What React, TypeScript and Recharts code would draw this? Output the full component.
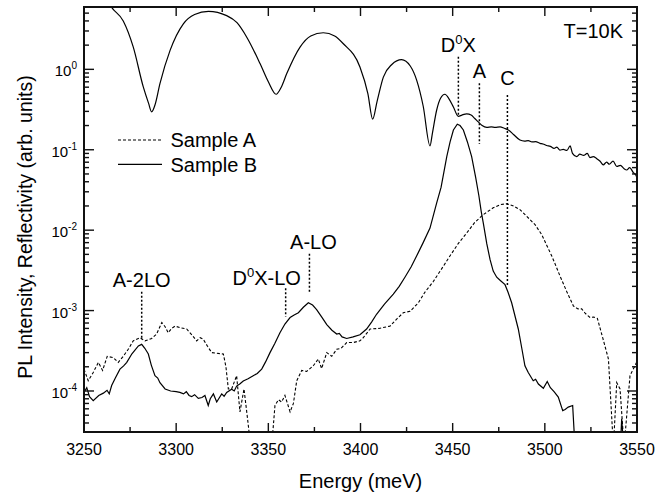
import React from "react";
import { LineChart, Line, XAxis, YAxis, ReferenceLine, Label } from "recharts";

// energy (meV), value (arb. units)
const REFLECTIVITY: [number, number][] = [
  [3250, 30], [3260, 9.5], [3265, 5.9], [3271.3, 4.0], [3276.7, 1.9], [3282.2, 0.6],
  [3285, 0.38], [3286.7, 0.296], [3288.5, 0.36], [3291.2, 0.665], [3296.7, 1.72],
  [3303.9, 3.68], [3310, 4.8], [3317.5, 5.27], [3327.4, 4.66], [3333, 3.8], [3338.3, 2.51],
  [3345.5, 1.18], [3350, 0.7], [3354.2, 0.49], [3357, 0.6], [3360, 0.885], [3367.2, 1.89],
  [3373, 2.6], [3379.8, 2.85], [3386, 2.6], [3390.7, 2.08], [3399.7, 1.07], [3404, 0.5],
  [3406.6, 0.24], [3409, 0.4], [3412.4, 0.8], [3417, 1.15], [3422.3, 1.32], [3427, 1.1],
  [3430.5, 0.73], [3434, 0.35], [3437.7, 0.112], [3439, 0.16], [3441.3, 0.31], [3443.5, 0.44],
  [3445.8, 0.49], [3448, 0.43], [3450.4, 0.34], [3453.1, 0.26], [3455, 0.27], [3457.6, 0.28],
  [3460, 0.27], [3462, 0.245], [3463.9, 0.222], [3466, 0.2], [3468.5, 0.19], [3471, 0.192],
  [3473, 0.19], [3475.7, 0.193], [3478, 0.185], [3480.2, 0.176], [3483, 0.155], [3486.5, 0.132],
  [3489, 0.128], [3491, 0.13], [3493, 0.125], [3495, 0.126], [3497.4, 0.12], [3499, 0.118],
  [3501, 0.113], [3503, 0.11], [3505, 0.104], [3506.5, 0.108], [3508.2, 0.099], [3510, 0.101],
  [3512, 0.098], [3513.7, 0.112], [3515, 0.09], [3517.3, 0.082], [3519, 0.088], [3521, 0.085],
  [3523, 0.09], [3524.5, 0.08], [3526.3, 0.082], [3528, 0.078], [3530, 0.072], [3531.7, 0.065],
  [3533.5, 0.07], [3535, 0.066], [3537, 0.072], [3539, 0.062], [3541, 0.064], [3543, 0.058],
  [3544.4, 0.056], [3546, 0.06], [3548, 0.052], [3549.5, 0.048], [3550, 0.044],
];

const SAMPLE_B: [number, number][] = [
  [3250, 9.6e-5], [3251.5, 1.1e-4], [3253, 8.5e-5], [3255, 7.6e-5], [3258, 8.8e-5],
  [3260.5, 9.4e-5], [3262.5, 1.02e-4], [3263.7, 9.2e-5], [3265, 1.17e-4], [3267, 1.45e-4],
  [3269.5, 1.87e-4], [3271.5, 2.05e-4], [3273.2, 2.27e-4], [3276, 2.9e-4], [3279.5, 3.63e-4],
  [3281.3, 3.8e-4], [3283, 3.4e-4], [3284.9, 2.88e-4], [3286.5, 2.1e-4], [3288.5, 1.55e-4],
  [3290, 1.45e-4], [3291.2, 1.27e-4], [3294, 1.06e-4], [3297, 1.0e-4], [3300, 9.8e-5],
  [3302, 9.6e-5], [3304, 9.2e-5], [3305.5, 9.8e-5], [3307, 8.8e-5], [3308.4, 8.5e-5],
  [3310, 9.0e-5], [3312, 8.1e-5], [3314, 8.3e-5], [3315.6, 8.8e-5], [3317.4, 6.6e-5],
  [3318.5, 8.0e-5], [3320.2, 9.2e-5], [3322, 7.3e-5], [3324.7, 9.2e-5], [3326, 8.6e-5],
  [3327.4, 9.6e-5], [3330.1, 1.05e-4], [3331.5, 1.0e-4], [3332.8, 1.15e-4], [3334.5, 1.22e-4],
  [3336.4, 1.33e-4], [3339, 1.42e-4], [3341.8, 1.55e-4], [3344, 1.65e-4], [3346.4, 1.87e-4],
  [3348.5, 2.3e-4], [3350.9, 3.0e-4], [3353.5, 3.9e-4], [3356.3, 5.3e-4], [3359, 6.8e-4],
  [3361.8, 8.2e-4], [3364, 8.8e-4], [3366.3, 9.4e-4], [3369, 1.1e-3], [3371.7, 1.25e-3],
  [3374, 1.17e-3], [3376.2, 1.03e-3], [3379, 8.3e-4], [3381.7, 6.7e-4], [3384.5, 5.7e-4],
  [3387.1, 5.1e-4], [3388.5, 5.2e-4], [3390, 4.7e-4], [3392.5, 4.5e-4], [3396, 4.7e-4],
  [3399.7, 5.0e-4], [3403.3, 5.9e-4], [3406, 7.2e-4], [3408.7, 9.0e-4], [3413, 1.2e-3],
  [3417.8, 1.6e-3], [3421, 2.0e-3], [3424.1, 2.6e-3], [3427.5, 3.5e-3], [3430.5, 4.8e-3],
  [3434, 7.0e-3], [3437.7, 1.06e-2], [3441.3, 2.17e-2], [3443.7, 3.4e-2], [3446.8, 8.2e-2],
  [3448.6, 0.125], [3450.4, 0.176], [3452.5, 0.208], [3454, 0.2], [3455.8, 0.176],
  [3458, 0.125], [3460.3, 0.082], [3462.5, 0.045], [3464.2, 0.027], [3465.5, 0.017],
  [3466.6, 0.0123], [3468.5, 6.8e-3], [3470.3, 4.3e-3], [3472, 3.1e-3], [3473.9, 2.6e-3],
  [3476, 2.35e-3], [3478.4, 2.1e-3], [3480, 1.7e-3], [3482, 1.25e-3], [3485.6, 5.9e-4],
  [3487.5, 3.4e-4], [3489.2, 2.06e-4], [3491, 1.7e-4], [3493.7, 1.34e-4], [3495, 1.4e-4],
  [3496.5, 1.22e-4], [3499.2, 1.08e-4], [3501.3, 1.31e-4], [3503, 1.1e-4], [3505, 9.8e-5],
  [3507.3, 8.4e-5], [3509.7, 5.7e-5], [3511, 5.9e-5], [3512.7, 6.3e-5], [3515.1, 6.6e-5],
  [3516.9, 1.2e-5], [3530, 1.2e-5], [3540.5, 1.2e-5], [3541.7, 4.5e-5], [3543.5, 1.2e-5],
  [3550, 1.2e-5],
];

const SAMPLE_A: [number, number][] = [
  [3250, 1.87e-4], [3252.3, 1.34e-4], [3255, 1.7e-4], [3257.8, 2.27e-4], [3260.1, 1.8e-4],
  [3262.6, 2.7e-4], [3265.9, 2.6e-4], [3268.6, 2.27e-4], [3271.3, 2.7e-4], [3274, 3.3e-4],
  [3276.7, 4.2e-4], [3280.4, 4.6e-4], [3283.1, 4.2e-4], [3286.7, 4.5e-4], [3289.4, 5.1e-4],
  [3292.2, 7.1e-4], [3294, 6.3e-4], [3295.7, 5.3e-4], [3297.5, 6.0e-4], [3299.4, 6.4e-4],
  [3302.5, 6.1e-4], [3305.7, 5.9e-4], [3308.5, 5.0e-4], [3311.1, 4.2e-4], [3313, 4.6e-4],
  [3314.7, 4.4e-4], [3317, 3.6e-4], [3319.3, 3.0e-4], [3322, 2.95e-4], [3325.6, 2.88e-4],
  [3327, 2.0e-4], [3328.3, 1.06e-4], [3330.1, 1.06e-4], [3332.8, 1.55e-4], [3334.6, 5.5e-5],
  [3336.8, 1.06e-4], [3338.5, 5e-5], [3340, 2.5e-5], [3345, 1.2e-5], [3351, 1.2e-5],
  [3352.4, 3.0e-5], [3353.6, 6.6e-5], [3355.5, 7.8e-5], [3357.2, 7.3e-5], [3359, 8.8e-5],
  [3361.8, 5.5e-5], [3363.6, 7.0e-5], [3365.4, 1.34e-4], [3368.1, 1.8e-4], [3370.8, 1.75e-4],
  [3374.4, 2.06e-4], [3377.1, 2.5e-4], [3378.9, 1.9e-4], [3381.7, 3.0e-4], [3384.4, 2.7e-4],
  [3387.1, 3.3e-4], [3389.5, 3.4e-4], [3392.5, 4.0e-4], [3396, 4.0e-4], [3399.7, 4.2e-4],
  [3401.5, 4.6e-4], [3405.2, 5.9e-4], [3410, 6.0e-4], [3416, 6.4e-4], [3420, 8.0e-4],
  [3423.2, 9.4e-4], [3426.9, 9.8e-4], [3431.4, 1.25e-3], [3435, 1.7e-3], [3439.5, 2.3e-3],
  [3444, 3.3e-3], [3448.6, 4.8e-3], [3453, 6.8e-3], [3457.6, 9.2e-3], [3462, 1.25e-2],
  [3466.6, 1.56e-2], [3472, 1.9e-2], [3476, 2.08e-2], [3479.3, 2.13e-2], [3483, 2.0e-2],
  [3486.5, 1.8e-2], [3490, 1.5e-2], [3494.7, 1.17e-2], [3498.3, 8.8e-3], [3501, 6.5e-3],
  [3503.7, 4.8e-3], [3506, 3.6e-3], [3508.2, 2.7e-3], [3512, 1.7e-3], [3515.5, 1.14e-3],
  [3518, 1.05e-3], [3520, 1.05e-3], [3522, 9.2e-4], [3524.5, 8.2e-4], [3526.5, 8.3e-4],
  [3528.5, 8.0e-4], [3531.5, 4.5e-4], [3534.5, 2.5e-4], [3537.2, 2.0e-5], [3539, 1.27e-4],
  [3540.8, 1.06e-4], [3543, 2.0e-5], [3546.2, 1.55e-4], [3549.8, 2.27e-4],
];

const ENERGY_TICKS = [
  3250, 3275, 3300, 3325, 3350, 3375, 3400, 3425, 3450, 3475, 3500, 3525, 3550,
];
const INTENSITY_TICKS = [
  4e-5, 5e-5, 6e-5, 7e-5, 8e-5, 9e-5,
  1e-4, 2e-4, 3e-4, 4e-4, 5e-4, 6e-4, 7e-4, 8e-4, 9e-4,
  1e-3, 2e-3, 3e-3, 4e-3, 5e-3, 6e-3, 7e-3, 8e-3, 9e-3,
  1e-2, 2e-2, 3e-2, 4e-2, 5e-2, 6e-2, 7e-2, 8e-2, 9e-2,
  0.1, 0.2, 0.3, 0.4, 0.5, 0.6, 0.7, 0.8, 0.9,
  1, 2, 3, 4, 5,
];
const ENERGY_RANGE = [3250, 3550];
const INTENSITY_RANGE = [3.09e-5, 5.96];

// peak markers: label, energy, top and bottom of dotted marker
const PEAK_LABELS = ["A-2LO", "D^0X-LO", "A-LO", "D^0X", "A", "C"];
const PEAK_ENERGY = [3281.3, 3359.4, 3372.3, 3453.1, 3464.5, 3479.7];
const PEAK_TOP = [1.71e-3, 1.89e-3, 5.1e-3, 1.43, 0.67, 0.479];
const PEAK_BOTTOM = [4.3e-4, 8.4e-4, 1.64e-3, 0.27, 0.118, 2.08e-3];

const PEAK_DX = [0, -19, 4, 0, 0, 0];
const PEAK_GAP = [5, 3, 5, 5, 5, 10];

const FONT = '"Liberation Sans", Arial, Helvetica, sans-serif';
const INK = "#000";
const FRAME_INK = "#111";

// chart box (matches the margins and axis sizes below)
const W = 667;
const H = 495;
const MARGIN = { top: 7, right: 30, bottom: 0, left: 8 };
const Y_AXIS_W = 76;
const X_AXIS_H = 63;
const PLOT = {
  left: MARGIN.left + Y_AXIS_W,
  right: W - MARGIN.right,
  top: MARGIN.top,
  bottom: H - MARGIN.bottom - X_AXIS_H,
};

const toPoints = (rows: [number, number][]) => rows.map(([e, v]) => ({ e, v }));

const isDecade = (v: number) => Math.abs(Math.log10(v) - Math.round(Math.log10(v))) < 1e-6;

// same linear / log mapping as the axes, used for the frame tick marks
const xPos = (e: number) =>
  PLOT.left + ((e - ENERGY_RANGE[0]) / (ENERGY_RANGE[1] - ENERGY_RANGE[0])) * (PLOT.right - PLOT.left);
const yPos = (v: number) => {
  const lo = Math.log10(INTENSITY_RANGE[0]);
  const hi = Math.log10(INTENSITY_RANGE[1]);
  return PLOT.top + ((hi - Math.log10(v)) / (hi - lo)) * (PLOT.bottom - PLOT.top);
};

function withSup(label: string, supSize: number) {
  const i = label.indexOf("^");
  if (i < 0) return label;
  return (
    <>
      <tspan>{label.slice(0, i)}</tspan>
      <tspan dy={-8} fontSize={supSize}>{label[i + 1]}</tspan>
      <tspan dy={8}>{label.slice(i + 2)}</tspan>
    </>
  );
}

function BottomTick({ x, y, payload }: any) {
  if (payload.value % 50 !== 0) return null;
  return (
    <text x={Number(x)} y={Number(y) + 23} textAnchor="middle" fontSize={16} fill={INK} fontFamily={FONT}>
      {payload.value}
    </text>
  );
}

function LeftTick({ x, y, payload }: any) {
  if (!isDecade(payload.value)) return null;
  const exp = Math.round(Math.log10(payload.value));
  return (
    <text x={Number(x) - 7} y={Number(y) + 7} textAnchor="end" fontSize={15} fill={INK} fontFamily={FONT}>
      <tspan>10</tspan>
      <tspan dy={-7} fontSize={10}>{exp}</tspan>
    </text>
  );
}

const peakLabel = (i: number) => (props: any) => {
  const vb = props.viewBox || {};
  const cx = vb.x + (vb.width || 0) / 2 + PEAK_DX[i];
  return (
    <text x={cx} y={vb.y - PEAK_GAP[i]} textAnchor="middle" fontSize={20} fill={INK} fontFamily={FONT}>
      {withSup(PEAK_LABELS[i], 13)}
    </text>
  );
};

const LEGEND = [
  { name: "Sample A", dash: "3 2" },
  { name: "Sample B", dash: undefined },
];

// frame and inward tick marks drawn as filled bars
function Frame() {
  const { left, right, top, bottom } = PLOT;
  const bars: { x: number; y: number; w: number; h: number }[] = [
    { x: left - 1, y: top - 1, w: right - left + 2, h: 2 },
    { x: left - 1, y: bottom - 1, w: right - left + 2, h: 2 },
    { x: left - 1, y: top - 1, w: 2, h: bottom - top + 2 },
    { x: right - 1, y: top - 1, w: 2, h: bottom - top + 2 },
  ];
  ENERGY_TICKS.forEach((e) => {
    const len = e % 50 === 0 ? 9 : 5;
    const x = xPos(e) - 0.7;
    bars.push({ x, y: bottom - len, w: 1.4, h: len }, { x, y: top, w: 1.4, h: len });
  });
  INTENSITY_TICKS.forEach((v) => {
    const len = isDecade(v) ? 10 : 5;
    const y = yPos(v) - 0.7;
    bars.push({ x: left, y, w: len, h: 1.4 }, { x: right - len, y, w: len, h: 1.4 });
  });
  return (
    <g>
      {bars.map((b, i) => (
        <rect key={i} x={b.x} y={b.y} width={b.w} height={b.h} fill={FRAME_INK} />
      ))}
    </g>
  );
}

export default function App() {
  return (
    <div style={{ position: "absolute", left: 0, top: 0, width: W, height: H }}>
      <LineChart width={W} height={H} margin={MARGIN}>
        <XAxis
          dataKey="e"
          type="number"
          domain={ENERGY_RANGE}
          allowDataOverflow
          ticks={ENERGY_TICKS}
          interval={0}
          height={X_AXIS_H}
          tickSize={0}
          tickMargin={0}
          tickLine={false}
          axisLine={false}
          tick={<BottomTick />}
        />
        <YAxis
          scale="log"
          type="number"
          domain={INTENSITY_RANGE}
          allowDataOverflow
          ticks={INTENSITY_TICKS}
          interval={0}
          width={Y_AXIS_W}
          tickSize={0}
          tickMargin={0}
          tickLine={false}
          axisLine={false}
          tick={<LeftTick />}
        />

        {PEAK_LABELS.map((name, i) => (
          <ReferenceLine
            key={name}
            segment={[
              { x: PEAK_ENERGY[i], y: PEAK_TOP[i] },
              { x: PEAK_ENERGY[i], y: PEAK_BOTTOM[i] },
            ]}
            stroke={INK}
            strokeWidth={1.5}
            strokeDasharray="2 2"
            label={<Label content={peakLabel(i)} />}
          />
        ))}

        <Line
          name="Reflectivity"
          type="monotone"
          data={toPoints(REFLECTIVITY)}
          dataKey="v"
          stroke={INK}
          strokeWidth={1.2}
          dot={false}
          activeDot={false}
          isAnimationActive={false}
        />
        <Line
          name="Sample A"
          data={toPoints(SAMPLE_A)}
          dataKey="v"
          stroke={INK}
          strokeWidth={1.1}
          strokeDasharray="3 2"
          dot={false}
          activeDot={false}
          isAnimationActive={false}
        />
        <Line
          name="Sample B"
          data={toPoints(SAMPLE_B)}
          dataKey="v"
          stroke={INK}
          strokeWidth={1.2}
          dot={false}
          activeDot={false}
          isAnimationActive={false}
        />
      </LineChart>

      {/* frame, titles, legend and temperature note */}
      <svg width={W} height={H} style={{ position: "absolute", left: 0, top: 0, pointerEvents: "none" }}
        fontFamily={FONT} fill={INK}>
        <Frame />
        <text x={(PLOT.left + PLOT.right) / 2} y={488} textAnchor="middle" fontSize={20}>Energy (meV)</text>
        <text x={25} y={227} transform="rotate(-90, 25, 227)" textAnchor="middle"
          dominantBaseline="central" fontSize={19.5}>
          PL Intensity, Reflectivity (arb. units)
        </text>
        <text x={623} y={38} textAnchor="end" fontSize={20}>T=10K</text>
        {LEGEND.map((item, i) => (
          <g key={item.name}>
            <line x1={118} x2={162} y1={140 + i * 24.3} y2={140 + i * 24.3} stroke={INK}
              strokeWidth={1.2} strokeDasharray={item.dash} />
            <text x={170.5} y={147 + i * 24.5} fontSize={20}>{item.name}</text>
          </g>
        ))}
      </svg>
    </div>
  );
}
